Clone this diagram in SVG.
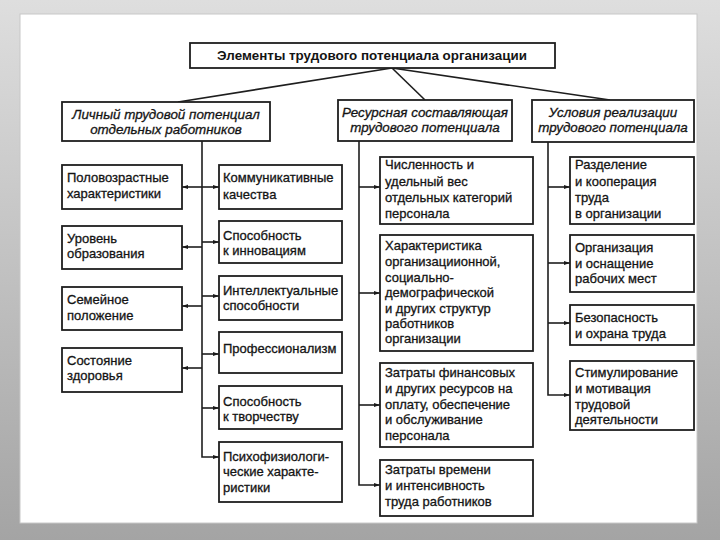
<svg xmlns="http://www.w3.org/2000/svg" width="720" height="540" viewBox="0 0 720 540">
  <defs>
    <linearGradient id="bg" x1="0" y1="0" x2="0" y2="1">
      <stop offset="0" stop-color="#dedede"/>
      <stop offset="1" stop-color="#a4a4a4"/>
    </linearGradient>
    <marker id="ah" viewBox="0 0 10 10" refX="10" refY="5" markerWidth="9" markerHeight="6" markerUnits="userSpaceOnUse" orient="auto">
      <path d="M0,1.5 L10,5 L0,8.5 Z" fill="#1a1a1a"/>
    </marker>
    <style>
      .box { fill: #ffffff; stroke: #1e1e1e; stroke-width: 1.8; }
      .t { font-family: "Liberation Sans", "DejaVu Sans", sans-serif; font-size: 13px; fill: #141414; stroke: #141414; stroke-width: 0.3; }
      .h { font-family: "Liberation Sans", "DejaVu Sans", sans-serif; font-size: 13.4px; font-style: italic; fill: #141414; stroke: #141414; stroke-width: 0.3; text-anchor: middle; }
      .title { font-family: "Liberation Sans", "DejaVu Sans", sans-serif; font-size: 13.4px; font-weight: bold; fill: #141414; text-anchor: middle; }
      .ln { fill: none; stroke: #1e1e1e; stroke-width: 1.6; }
      .ar { fill: none; stroke: #1e1e1e; stroke-width: 1.6; marker-end: url(#ah); }
    </style>
  </defs>

  <rect x="0" y="0" width="720" height="540" fill="url(#bg)"/>
  <rect x="20" y="14" width="677" height="509" fill="#ffffff" stroke="#c8c8c8" stroke-width="1"/>

  <g id="connectors">
    <line class="ln" x1="392" y1="68" x2="178" y2="102"/>
    <line class="ln" x1="392" y1="68" x2="425" y2="100"/>
    <line class="ln" x1="392" y1="68" x2="610" y2="100"/>

    <path class="ar" d="M202,141 V457 H219"/>
    <line class="ar" x1="202" y1="187" x2="182" y2="187"/>
    <line class="ar" x1="202" y1="187" x2="219" y2="187"/>
    <line class="ar" x1="202" y1="247" x2="182" y2="247"/>
    <line class="ar" x1="202" y1="242" x2="219" y2="242"/>
    <line class="ar" x1="202" y1="306" x2="182" y2="306"/>
    <line class="ar" x1="202" y1="296" x2="219" y2="296"/>
    <line class="ar" x1="202" y1="354" x2="219" y2="354"/>
    <line class="ar" x1="202" y1="368" x2="182" y2="368"/>
    <line class="ar" x1="202" y1="408" x2="219" y2="408"/>

    <path class="ar" d="M359,141 V485 H380"/>
    <line class="ar" x1="359" y1="187" x2="380" y2="187"/>
    <line class="ar" x1="359" y1="293" x2="380" y2="293"/>
    <line class="ar" x1="359" y1="405" x2="380" y2="405"/>

    <path class="ar" d="M548,142 V395 H570"/>
    <line class="ar" x1="548" y1="187" x2="570" y2="187"/>
    <line class="ar" x1="548" y1="263" x2="570" y2="263"/>
    <line class="ar" x1="548" y1="323" x2="570" y2="323"/>
  </g>

  <g id="root">
    <rect class="box" x="190" y="43" width="365" height="25"/>
    <text class="title" x="372" y="60">Элементы трудового потенциала организации</text>
  </g>

  <g id="h-personal">
    <rect class="box" x="62" y="102" width="208" height="39"/>
    <text class="h" x="166" y="119">Личный трудовой потенциал</text>
    <text class="h" x="166" y="134">отдельных работников</text>
  </g>
  <g id="h-resource">
    <rect class="box" x="338" y="100" width="174" height="41"/>
    <text class="h" x="425" y="117">Ресурсная составляющая</text>
    <text class="h" x="425" y="132">трудового потенциала</text>
  </g>
  <g id="h-conditions">
    <rect class="box" x="532" y="100" width="162" height="42"/>
    <text class="h" x="613" y="117">Условия реализации</text>
    <text class="h" x="613" y="132">трудового потенциала</text>
  </g>

  <g id="n-age">
    <rect class="box" x="62" y="165" width="120" height="44"/>
    <text class="t" x="67" y="182">Половозрастные</text>
    <text class="t" x="67" y="198">характеристики</text>
  </g>
  <g id="n-edu">
    <rect class="box" x="62" y="226" width="120" height="43"/>
    <text class="t" x="67" y="243">Уровень</text>
    <text class="t" x="67" y="258">образования</text>
  </g>
  <g id="n-family">
    <rect class="box" x="62" y="287" width="120" height="43"/>
    <text class="t" x="67" y="304">Семейное</text>
    <text class="t" x="67" y="320">положение</text>
  </g>
  <g id="n-health">
    <rect class="box" x="62" y="348" width="120" height="44"/>
    <text class="t" x="67" y="365">Состояние</text>
    <text class="t" x="67" y="380">здоровья</text>
  </g>

  <g id="n-comm">
    <rect class="box" x="219" y="165" width="123" height="44"/>
    <text class="t" x="223" y="182">Коммуникативные</text>
    <text class="t" x="223" y="199">качества</text>
  </g>
  <g id="n-innov">
    <rect class="box" x="219" y="221" width="123" height="42"/>
    <text class="t" x="223" y="240">Способность</text>
    <text class="t" x="223" y="255">к инновациям</text>
  </g>
  <g id="n-intel">
    <rect class="box" x="219" y="276" width="123" height="44"/>
    <text class="t" x="223" y="295">Интеллектуальные</text>
    <text class="t" x="223" y="310">способности</text>
  </g>
  <g id="n-prof">
    <rect class="box" x="219" y="332" width="123" height="41"/>
    <text class="t" x="223" y="353">Профессионализм</text>
  </g>
  <g id="n-creat">
    <rect class="box" x="219" y="386" width="123" height="43"/>
    <text class="t" x="223" y="406">Способность</text>
    <text class="t" x="223" y="421">к творчеству</text>
  </g>
  <g id="n-psych">
    <rect class="box" x="219" y="442" width="123" height="60"/>
    <text class="t" x="223" y="461">Психофизиологи-</text>
    <text class="t" x="223" y="476">ческие характе-</text>
    <text class="t" x="223" y="492">ристики</text>
  </g>

  <g id="n-count">
    <rect class="box" x="380" y="157" width="153" height="67"/>
    <text class="t" x="385" y="169">Численность и</text>
    <text class="t" x="385" y="186">удельный вес</text>
    <text class="t" x="385" y="202">отдельных категорий</text>
    <text class="t" x="385" y="218">персонала</text>
  </g>
  <g id="n-struct">
    <rect class="box" x="380" y="235" width="153" height="116"/>
    <text class="t" x="385" y="250">Характеристика</text>
    <text class="t" x="385" y="266">организациионной,</text>
    <text class="t" x="385" y="282">социально-</text>
    <text class="t" x="385" y="297">демографической</text>
    <text class="t" x="385" y="313">и других структур</text>
    <text class="t" x="385" y="328">работников</text>
    <text class="t" x="385" y="343">организации</text>
  </g>
  <g id="n-costs">
    <rect class="box" x="380" y="363" width="153" height="84"/>
    <text class="t" x="385" y="377">Затраты финансовых</text>
    <text class="t" x="385" y="393">и других ресурсов на</text>
    <text class="t" x="385" y="409">оплату, обеспечение</text>
    <text class="t" x="385" y="424">и обслуживание</text>
    <text class="t" x="385" y="440">персонала</text>
  </g>
  <g id="n-time">
    <rect class="box" x="380" y="460" width="153" height="56"/>
    <text class="t" x="385" y="474">Затраты времени</text>
    <text class="t" x="385" y="490">и интенсивность</text>
    <text class="t" x="385" y="506">труда работников</text>
  </g>

  <g id="n-division">
    <rect class="box" x="570" y="157" width="124" height="67"/>
    <text class="t" x="575" y="169">Разделение</text>
    <text class="t" x="575" y="186">и кооперация</text>
    <text class="t" x="575" y="202">труда</text>
    <text class="t" x="575" y="218">в организации</text>
  </g>
  <g id="n-workplace">
    <rect class="box" x="570" y="235" width="124" height="57"/>
    <text class="t" x="575" y="252">Организация</text>
    <text class="t" x="575" y="268">и оснащение</text>
    <text class="t" x="575" y="283">рабочих мест</text>
  </g>
  <g id="n-safety">
    <rect class="box" x="570" y="305" width="124" height="40"/>
    <text class="t" x="575" y="322">Безопасность</text>
    <text class="t" x="575" y="338">и охрана труда</text>
  </g>
  <g id="n-motiv">
    <rect class="box" x="570" y="361" width="124" height="69"/>
    <text class="t" x="575" y="377">Стимулирование</text>
    <text class="t" x="575" y="393">и мотивация</text>
    <text class="t" x="575" y="409">трудовой</text>
    <text class="t" x="575" y="424">деятельности</text>
  </g>
</svg>
